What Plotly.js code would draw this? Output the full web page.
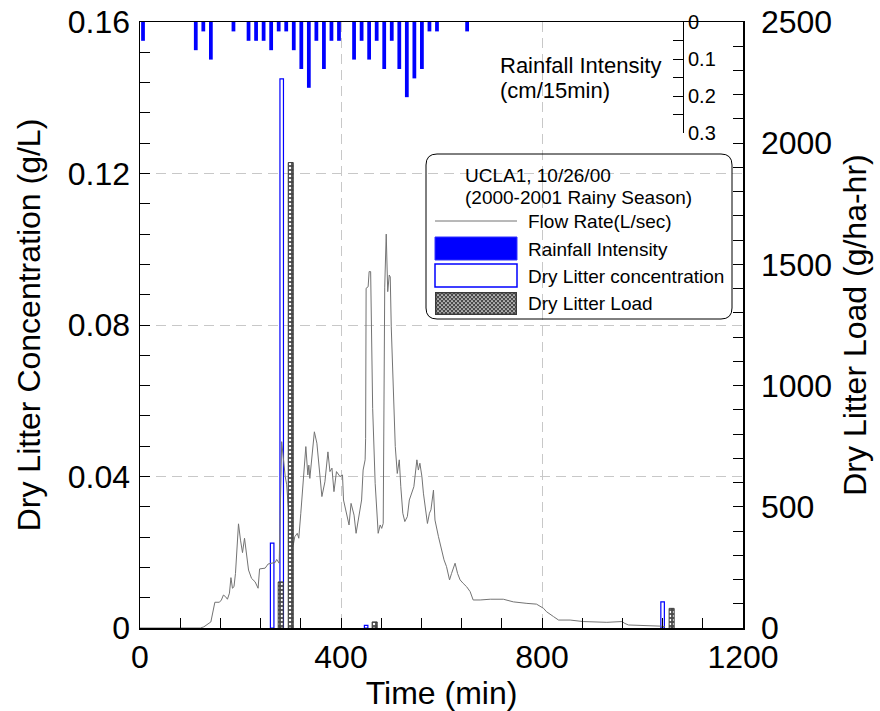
<!DOCTYPE html>
<html>
<head>
<meta charset="utf-8">
<script src="https://cdn.plot.ly/plotly-3.0.1.min.js"></script>
<style>html,body{margin:0;padding:0;background:#fff;}#chart{width:880px;height:711px;}</style>
</head>
<body>
<div id="chart"></div>
<script>
// ---- Rainfall intensity (cm/15min), bar centres in minutes ----
const rainTimes = [6, 111, 126, 141, 186, 216, 231, 246, 261, 276, 291, 306, 321, 336, 351, 366, 381, 396, 426, 441, 456, 471, 486, 501, 516, 531, 546, 561, 576, 591, 651];
const rainValues = [0.0508, 0.0762, 0.0254, 0.1016, 0.0254, 0.0508, 0.0508, 0.0508, 0.0762, 0.0254, 0.0254, 0.0762, 0.127, 0.1778, 0.0508, 0.127, 0.0508, 0.0508, 0.1016, 0.0508, 0.1016, 0.0508, 0.127, 0.0508, 0.127, 0.2032, 0.1524, 0.127, 0.0254, 0.0254, 0.0254];

// ---- Dry litter concentration (g/L) ----
const concTimes = [263, 282, 450, 1040];
const concValues = [0.0224, 0.145, 0.0007, 0.0069];

// ---- Dry litter load (g/ha-hr) ----
const loadTimes = [280, 300, 467, 1058];
const loadValues = [190, 1920, 25, 81];

// ---- Flow rate (L/sec) ----
const flowTimes = [0, 120, 127, 136, 141, 149, 158, 162, 166, 170, 174, 178, 181, 184, 187, 190, 196, 200, 204, 208, 211, 216, 222, 229, 235, 238, 249, 255, 269, 272, 277, 282, 289, 292, 296, 300, 305, 308, 313, 316, 320, 324, 326, 330, 334, 336, 338, 342, 347, 352, 357, 362, 368, 374, 378, 382, 386, 391, 398, 403, 405, 411, 416, 420, 426, 430, 436, 441, 444, 448, 449, 450, 454, 456, 459, 461, 463, 468, 471, 474, 478, 481, 484, 486, 487, 490, 493, 496, 498, 500, 504, 508, 512, 516, 519, 523, 527, 532, 536, 541, 545, 551, 554, 557, 561, 564, 569, 572, 576, 579, 584, 587, 594, 600, 605, 610, 616, 620, 627, 632, 637, 643, 650, 657, 663, 677, 697, 723, 743, 770, 789, 803, 809, 823, 833, 856, 879, 882, 929, 959, 965, 972, 1035, 1045];
const flowValues = [0, 0, 0.3, 1, 1.6, 6.8, 6.8, 7.4, 8.7, 8.3, 7.6, 9.2, 13.3, 10.5, 10.9, 14.4, 27.5, 23.2, 19.9, 23.7, 21, 15.3, 13.1, 12.2, 10.5, 15.6, 15.8, 16.9, 17.3, 18.1, 17.1, 49.2, 40, 37.8, 30, 24, 21.9, 24.1, 25, 23.7, 30.3, 37.3, 42.6, 47.9, 40.4, 43, 39.5, 45.2, 51.8, 48.8, 42.2, 34.7, 38.6, 46.5, 41.3, 42.2, 36, 41.3, 40, 40.4, 33.8, 30.3, 27.2, 32.9, 29.8, 25, 29.8, 33.8, 41.7, 44.4, 50, 89.7, 90.1, 94.1, 94.1, 75, 58, 38.2, 29.4, 25, 27.2, 26.3, 27.6, 63.7, 90, 104, 88.8, 93.2, 92.7, 79.5, 65.5, 47.9, 40.8, 44.4, 37.3, 30.3, 28.1, 29.4, 33.8, 35.6, 37.3, 44.4, 41.7, 43.5, 40, 35.6, 31.2, 27.6, 30.3, 31.2, 36.4, 28.5, 24.1, 20.6, 18, 16.2, 12.7, 14.4, 17.1, 14.4, 12.7, 11.8, 10.9, 9.6, 7.4, 7.4, 7.6, 7.6, 6.9, 6.5, 6.3, 5.2, 4.3, 3, 2.1, 2.1, 1.9, 1.7, 1.5, 1.7, 1.2, 0.8, 0.5, 0.35];

// ---- Axis tick labels ----
const xTickVals = [0, 400, 800, 1200];
const yTickVals = [0, 0.04, 0.08, 0.12, 0.16];
const loadTickVals = [0, 500, 1000, 1500, 2000, 2500];
const rainTickVals = [0, 0.1, 0.2, 0.3];

// ---- Legend / text ----
const legendTitle = ["UCLA1, 10/26/00", "(2000-2001 Rainy Season)"];
const legendLabels = ["Flow Rate(L/sec)", "Rainfall Intensity", "Dry Litter concentration", "Dry Litter Load"];

// pixel -> paper helpers (plot area 140..743 x, 22..628 y)
const L = 140, R = 743, T = 22, B = 628;
const PX = x => (x - L) / (R - L);
const PY = y => (B - y) / (B - T);

const FONT = 'Arial, "Liberation Sans", sans-serif';
const BLUE = '#0000ff';

const traces = [
  { type: 'bar', name: 'Dry Litter concentration', x: concTimes, y: concValues, yaxis: 'y', width: 7,
    marker: { color: 'rgba(255,255,255,0)', line: { color: BLUE, width: 1.2 } }, showlegend: false },
  { type: 'scatter', mode: 'lines', name: 'Flow Rate(L/sec)', x: flowTimes, y: flowValues, yaxis: 'y2',
    line: { color: '#737373', width: 1 }, showlegend: false },
  { type: 'bar', name: 'Rainfall Intensity', x: rainTimes, y: rainValues, yaxis: 'y3', width: 7.5,
    marker: { color: BLUE, line: { width: 0 } }, showlegend: false },
  { type: 'bar', name: 'Dry Litter Load', x: loadTimes, y: loadValues, yaxis: 'y4', width: 10,
    marker: { color: '#4a4a4a', line: { color: '#3a3a3a', width: 1 },
      pattern: { shape: '.', bgcolor: '#4a4a4a', fgcolor: '#ffffff', size: 4, solidity: 0.3 } }, showlegend: false }
];

const tickCommon = { ticks: 'inside', ticklen: 10, tickwidth: 1, tickcolor: '#000', showline: true, linecolor: '#000', zeroline: false };

const hatchSvg = "<svg xmlns='http://www.w3.org/2000/svg' width='82' height='23' viewBox='0 0 82 23'>" +
  "<defs><pattern id='p' width='4' height='4' patternUnits='userSpaceOnUse'>" +
  "<rect width='4' height='4' fill='#4a4a4a'/><circle cx='1' cy='1' r='0.85' fill='#fff'/><circle cx='3' cy='3' r='0.85' fill='#fff'/>" +
  "</pattern></defs><rect x='0.75' y='0.75' width='80.5' height='21.5' fill='url(#p)' stroke='#3a3a3a' stroke-width='1.5'/></svg>";

function roundRect(x0, y0, x1, y1, r) {
  const a = PX(x0), b = PX(x1), c = PY(y0), d = PY(y1);
  const rx = r / (R - L), ry = r / (B - T);
  return `M ${a + rx} ${c} L ${b - rx} ${c} Q ${b} ${c} ${b} ${c - ry} L ${b} ${d + ry} Q ${b} ${d} ${b - rx} ${d} ` +
         `L ${a + rx} ${d} Q ${a} ${d} ${a} ${d + ry} L ${a} ${c - ry} Q ${a} ${c} ${a + rx} ${c} Z`;
}

const annotations = [
  { text: 'Rainfall Intensity', x: PX(498), y: PY(65) },
  { text: '(cm/15min)', x: PX(498), y: PY(90) },
  { text: legendTitle[0], x: PX(463), y: PY(175), size: 19 },
  { text: legendTitle[1], x: PX(463), y: PY(197), size: 19 },
  { text: legendLabels[0], x: PX(526), y: PY(221), size: 19 },
  { text: legendLabels[1], x: PX(526), y: PY(249), size: 19 },
  { text: legendLabels[2], x: PX(526), y: PY(276), size: 19 },
  { text: legendLabels[3], x: PX(526), y: PY(303), size: 19 }
].map(a => ({ text: a.text, x: a.x, y: a.y, xref: 'paper', yref: 'paper', xanchor: 'left', yanchor: 'middle',
  showarrow: false, font: { family: FONT, size: a.size || 22, color: '#000' } }));

const shapes = [
  { type: 'path', xref: 'paper', yref: 'paper', path: roundRect(426, 154, 732, 319, 11), line: { color: '#000', width: 1 }, layer: 'above' },
  { type: 'line', xref: 'paper', yref: 'paper', x0: PX(435), x1: PX(517), y0: PY(221), y1: PY(221), line: { color: '#737373', width: 1 }, layer: 'above' },
  { type: 'rect', xref: 'paper', yref: 'paper', x0: PX(435), x1: PX(517), y0: PY(260), y1: PY(237), fillcolor: BLUE, line: { color: '#3333ff', width: 1 }, layer: 'above' },
  { type: 'rect', xref: 'paper', yref: 'paper', x0: PX(435), x1: PX(517), y0: PY(287), y1: PY(264), fillcolor: '#ffffff', line: { color: BLUE, width: 1.5 }, layer: 'above' }
];

const layout = {
  width: 880, height: 711,
  margin: { l: L, r: 880 - R, t: T, b: 711 - B, pad: 0 },
  paper_bgcolor: '#ffffff', plot_bgcolor: 'rgba(0,0,0,0)',
  font: { family: FONT, color: '#000' },
  showlegend: false, barmode: 'overlay',
  xaxis: Object.assign({}, tickCommon, {
    range: [0, 1200], tickvals: xTickVals, linewidth: 1.5, mirror: true,
    showgrid: true, gridcolor: '#c8c8c8', griddash: '10px,6px', gridwidth: 1,
    tickfont: { size: 32, family: FONT },
    minor: { dtick: 80, tick0: 0, ticks: 'inside', ticklen: 10, tickcolor: '#000', showgrid: false },
    title: { text: 'Time (min)', font: { size: 32, family: FONT }, standoff: 6 }
  }),
  yaxis: Object.assign({}, tickCommon, {
    range: [0, 0.16], tickvals: yTickVals, linewidth: 1.5,
    showgrid: true, gridcolor: '#c8c8c8', griddash: '10px,6px', gridwidth: 1,
    tickfont: { size: 32, family: FONT }, ticklabelstandoff: 2,
    minor: { dtick: 0.008, tick0: 0, ticks: 'inside', ticklen: 10, tickcolor: '#000', showgrid: false },
    title: { text: 'Dry Litter Concentration (g/L)', font: { size: 32, family: FONT }, standoff: 17 }
  }),
  yaxis2: { overlaying: 'y', range: [0, 160], visible: false },
  yaxis3: Object.assign({}, tickCommon, {
    domain: [1 - 111 / (B - T), 1], range: [0.3, 0], anchor: 'free', position: PX(683), side: 'right',
    tickvals: rainTickVals, linewidth: 1, showgrid: false,
    tickfont: { size: 20, family: FONT },
    minor: { dtick: 0.05, tick0: 0, ticks: 'inside', ticklen: 10, tickcolor: '#000', showgrid: false }
  }),
  yaxis4: Object.assign({}, tickCommon, {
    overlaying: 'y', side: 'right', range: [0, 2500], tickvals: loadTickVals, linewidth: 1.5, showgrid: false,
    tickfont: { size: 32, family: FONT }, ticklabelstandoff: 10,
    minor: { dtick: 100, tick0: 0, ticks: 'inside', ticklen: 10, tickcolor: '#000', showgrid: false },
    title: { text: 'Dry Litter Load (g/ha-hr)', font: { size: 32, family: FONT }, standoff: 12 }
  }),
  annotations: annotations,
  shapes: shapes,
  images: [{ source: 'data:image/svg+xml;charset=utf-8,' + encodeURIComponent(hatchSvg),
    xref: 'paper', yref: 'paper', x: PX(435), y: PY(292), sizex: 82 / (R - L), sizey: 23 / (B - T),
    xanchor: 'left', yanchor: 'top', sizing: 'stretch', layer: 'above' }]
};

Plotly.newPlot('chart', traces, layout, { displayModeBar: false, staticPlot: true });
</script>
</body>
</html>
